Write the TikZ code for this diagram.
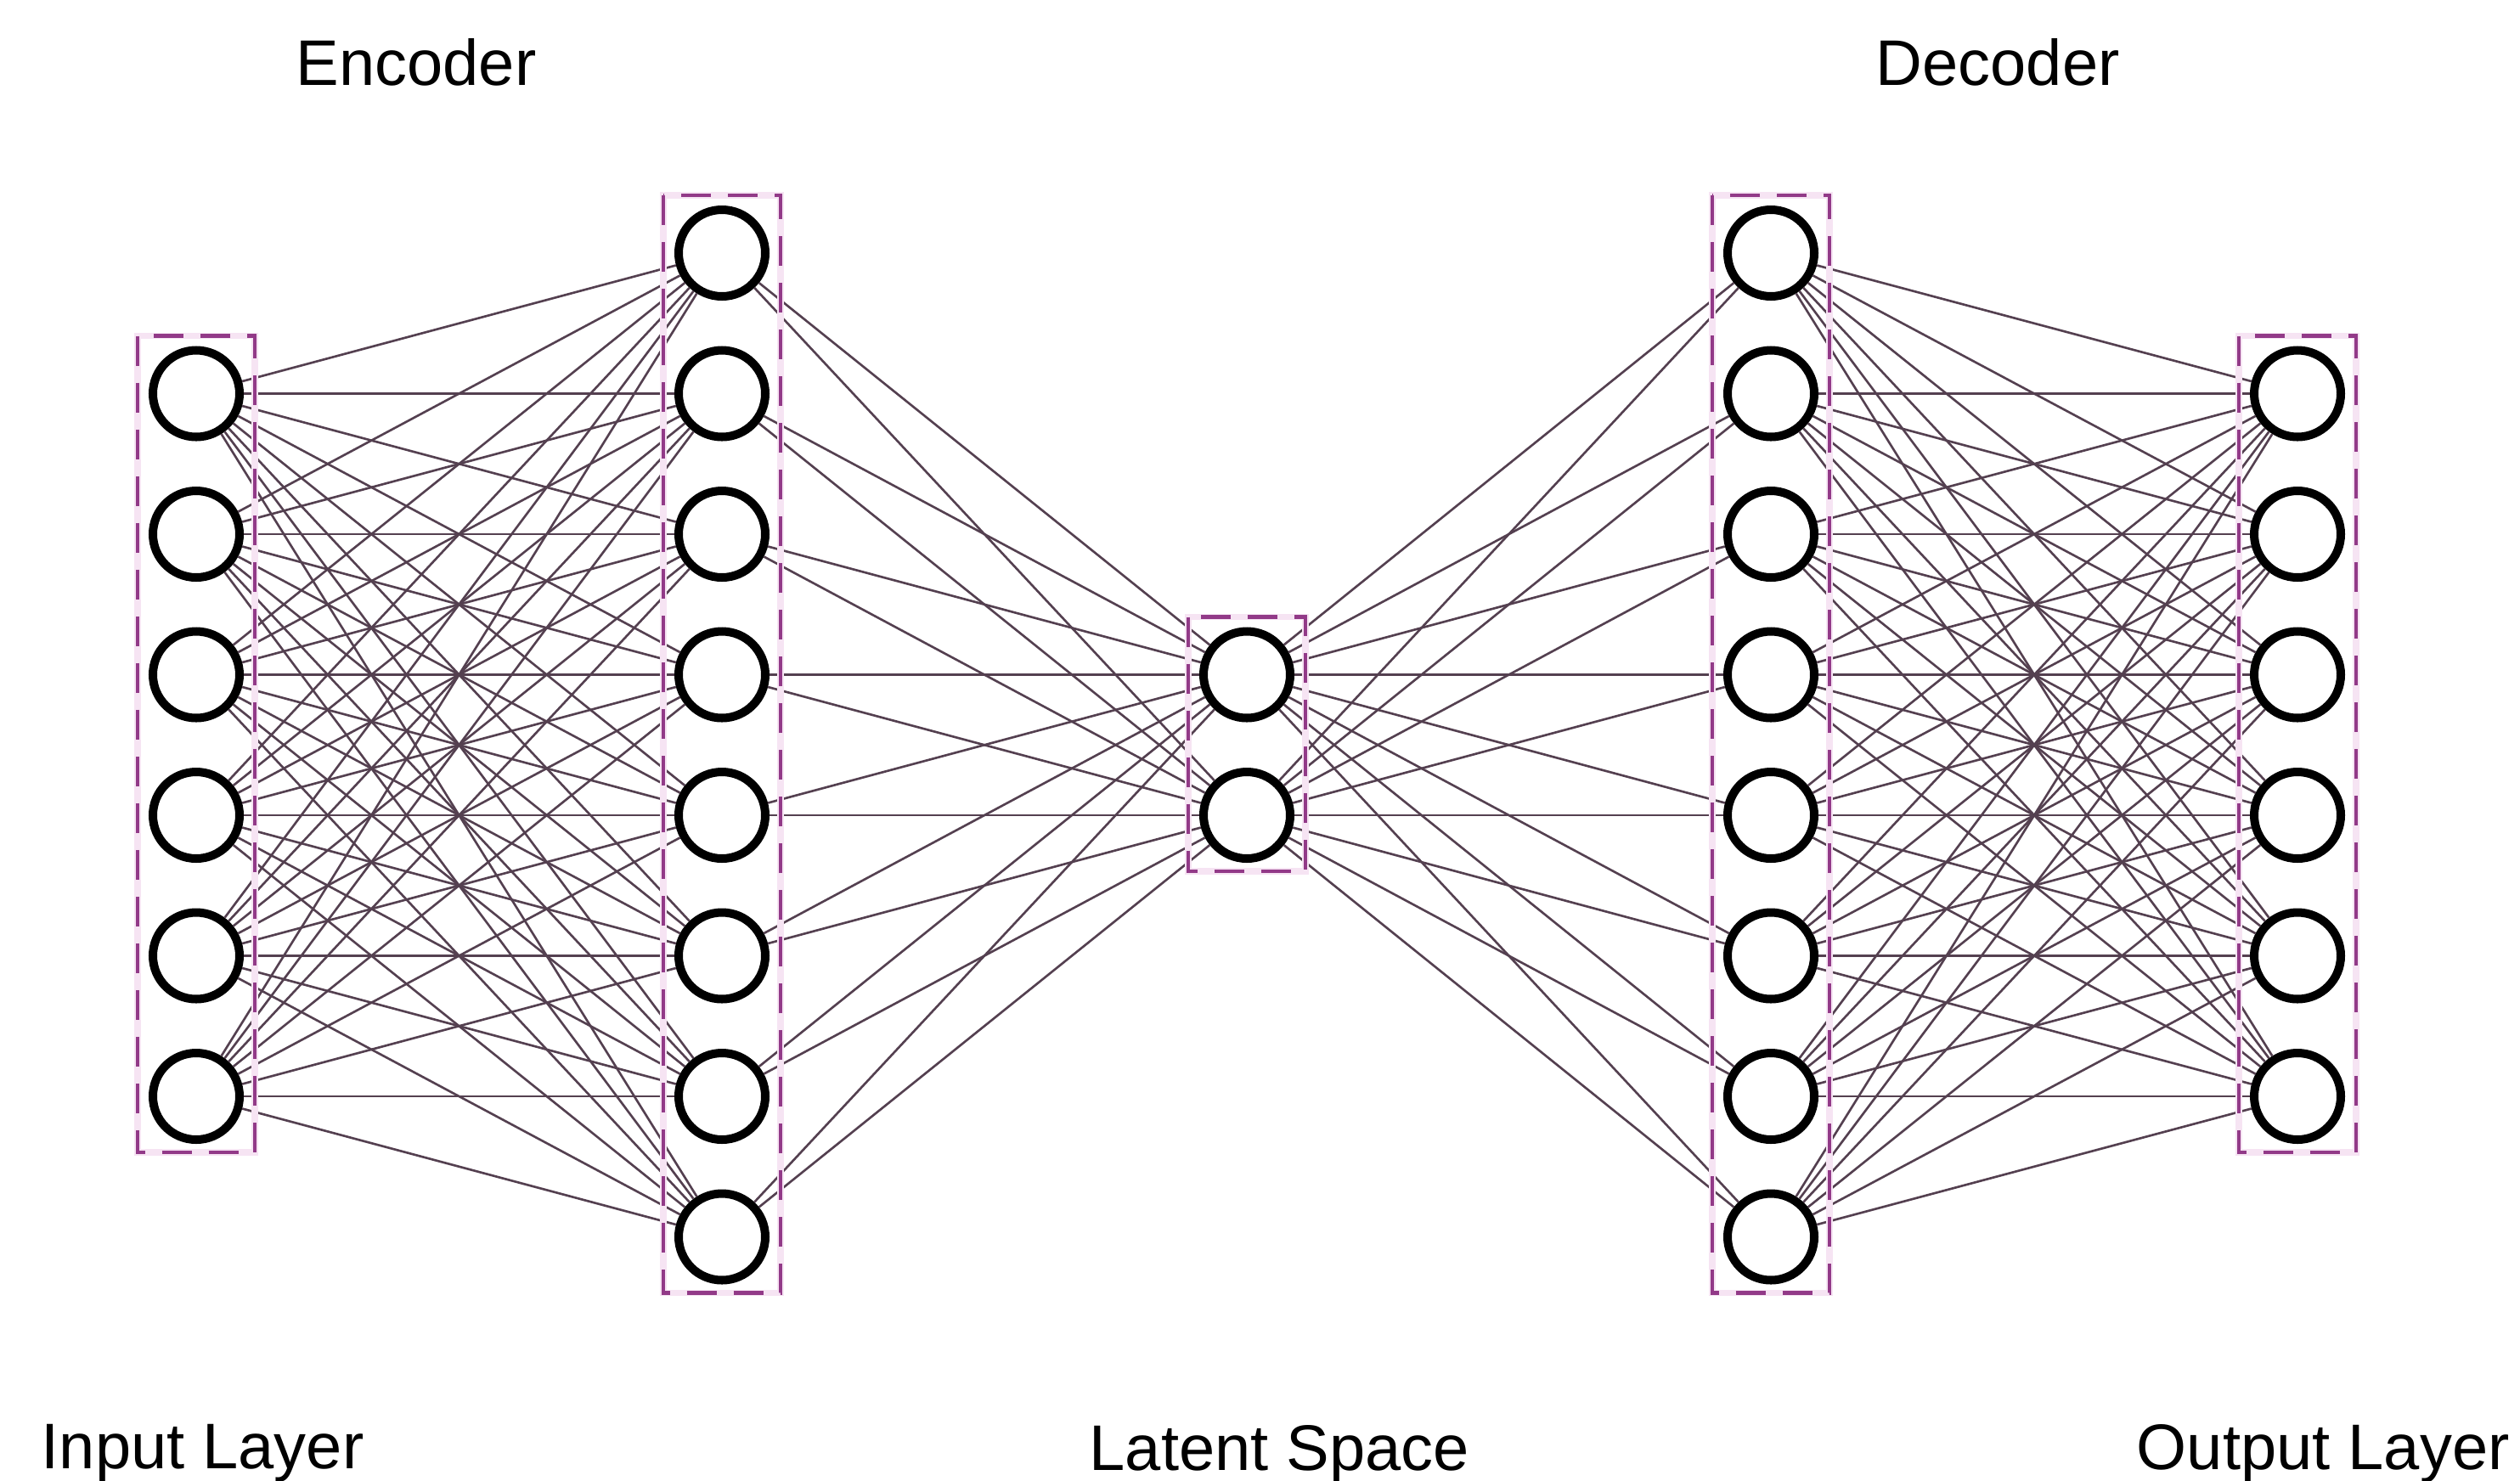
\documentclass[tikz,border=0pt]{standalone}
\usepackage{fontspec}
\setmainfont{Liberation Sans}
\usetikzlibrary{calc}
\definecolor{boxpurple}{RGB}{146,58,136}
\definecolor{boxglow}{RGB}{246,228,243}
\definecolor{edgecol}{RGB}{84,64,80}
\begin{document}
\begin{tikzpicture}[x=1cm,y=1cm,
  neuron/.style={circle, draw=black, line width=2.85pt, fill=white,
    minimum size=1.02cm, inner sep=0pt},
  layerbox/.style={draw=boxpurple, line width=1.35pt,
    dash pattern=on 0.35cm off 0.2cm},
  layerglow/.style={draw=boxglow, line width=2.2pt},
  synapse/.style={draw=edgecol, line width=0.75pt},
  caption/.style={anchor=base west, inner sep=0pt,
    font=\fontsize{21.6}{26}\selectfont}]

\useasboundingbox (0,0) rectangle (29.67,-17.43);

% neurons: rows at y = -(2.98 + 1.655 k)
\foreach \k in {1,...,6}
  \node[neuron] (i\k) at (2.31, {-2.98-1.655*\k}) {};
\foreach \k in {0,...,7}
  \node[neuron] (h\k) at (8.50, {-2.98-1.655*\k}) {};
\foreach \k in {3,4}
  \node[neuron] (z\k) at (14.68, {-2.98-1.655*\k}) {};
\foreach \k in {0,...,7}
  \node[neuron] (d\k) at (20.85, {-2.98-1.655*\k}) {};
\foreach \k in {1,...,6}
  \node[neuron] (o\k) at (27.05, {-2.98-1.655*\k}) {};

% fully connected weights
\foreach \a in {1,...,6}
  \foreach \b in {0,...,7}
    \draw[synapse] (i\a) -- (h\b);
\foreach \a in {0,...,7}
  \foreach \b in {3,4}
    \draw[synapse] (h\a) -- (z\b);
\foreach \a in {3,4}
  \foreach \b in {0,...,7}
    \draw[synapse] (z\a) -- (d\b);
\foreach \a in {0,...,7}
  \foreach \b in {1,...,6}
    \draw[synapse] (d\a) -- (o\b);

% dashed frames around each layer
\foreach \top/\bot in {i1/i6, h0/h7, z3/z4, d0/d7, o1/o6} {
  \draw[layerglow] ($(\top)+(-0.69,0.68)$) rectangle ($(\bot)+(0.69,-0.66)$);
  \draw[layerbox] ($(\top)+(-0.69,0.68)$) rectangle ($(\bot)+(0.69,-0.66)$);
}

% labels
\node[caption] (enc) at (3.48,-1.00) {Encoder};
\node[caption] (dec) at (22.08,-1.00) {Decoder};
\node[caption] (inl) at (0.48,-17.29) {Input Layer};
\node[caption] (lat) at (12.82,-17.31) {Latent Space};
\node[caption] (outl) at (25.15,-17.30) {Output Layer};
\end{tikzpicture}
\end{document}
